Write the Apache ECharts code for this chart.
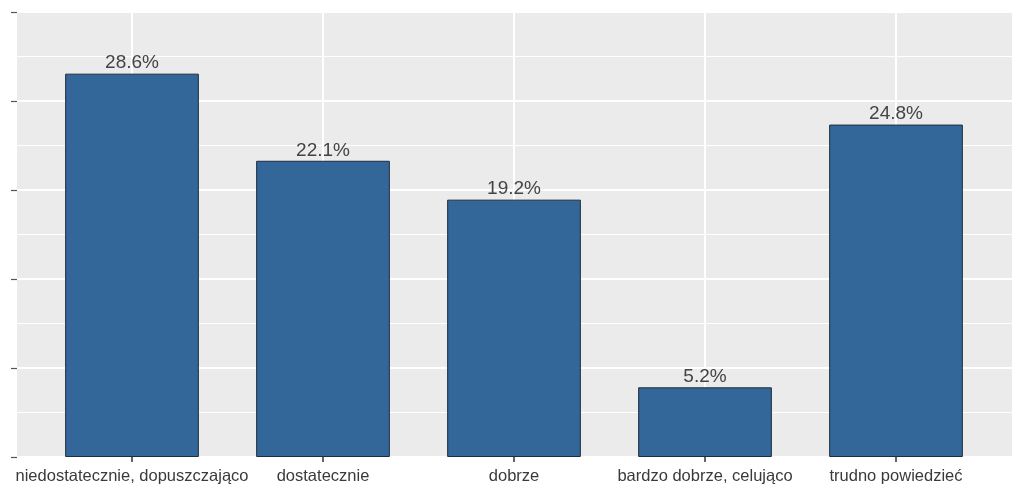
<!DOCTYPE html>
<html>
<head>
<meta charset="utf-8">
<script src="https://cdn.jsdelivr.net/npm/echarts@6/dist/echarts.min.js"></script>
<style>
html,body{margin:0;padding:0;background:#fff;}
#c{width:1024px;height:493px;}
</style>
</head>
<body>
<div id="c"></div>
<script>
const categories = ["niedostatecznie, dopuszczająco", "dostatecznie", "dobrze", "bardzo dobrze, celująco", "trudno powiedzieć"];
const values = [28.6, 22.1, 19.2, 5.2, 24.8];
const yMin = 0;
const yInterval = 6.64;
const yMax = 33.2;

const chart = echarts.init(document.getElementById('c'), null, {renderer: 'canvas'});
const font = '"Liberation Sans", Arial, sans-serif';
const hiddenY = {type: 'value', min: yMin, max: yMax, interval: yInterval, show: false};
chart.setOption({
  animation: false,
  backgroundColor: '#ffffff',
  grid: [
    {left: 17, width: 995, top: 12, height: 445, show: true, backgroundColor: '#EBEBEB', borderWidth: 0, z: 0},
    {left: 36.5, width: 955, top: 12, height: 445},
    {left: 132, width: 764, top: 12, height: 445}
  ],
  xAxis: [
    {gridIndex: 0, type: 'category', data: categories, show: false},
    {gridIndex: 1, type: 'category', data: categories, boundaryGap: true,
     axisLine: {show: false},
     axisTick: {show: true, alignWithLabel: true, interval: 0, length: 5, lineStyle: {color: '#333333', width: 1.5}},
     axisLabel: {margin: 11, interval: 0, fontSize: 16.5, color: '#3a3a3a', fontFamily: font},
     splitLine: {show: false}},
    {gridIndex: 2, type: 'category', data: categories, boundaryGap: false,
     axisLine: {show: false}, axisTick: {show: false}, axisLabel: {show: false},
     splitLine: {show: true, interval: 0, lineStyle: {color: '#ffffff', width: 2}}}
  ],
  yAxis: [
    {gridIndex: 0, type: 'value', min: yMin, max: yMax, interval: yInterval,
     axisLine: {show: false},
     axisTick: {show: true, length: 6, lineStyle: {color: '#555555', width: 1.2}},
     axisLabel: {show: false},
     splitLine: {show: true, lineStyle: {color: '#ffffff', width: 2}},
     minorTick: {show: false, splitNumber: 2},
     minorSplitLine: {show: true, lineStyle: {color: '#ffffff', width: 1}}},
    Object.assign({gridIndex: 1}, hiddenY),
    Object.assign({gridIndex: 2}, hiddenY)
  ],
  series: [{
    type: 'bar',
    xAxisIndex: 1, yAxisIndex: 1,
    data: values,
    barWidth: '70%',
    z: 5,
    itemStyle: {color: '#336699', borderColor: '#1e2d3d', borderWidth: 1},
    label: {show: true, position: 'top', distance: 1, fontSize: 19, color: '#444444', fontFamily: font,
      formatter: p => p.value.toFixed(1) + '%'}
  }]
});
</script>
</body>
</html>
